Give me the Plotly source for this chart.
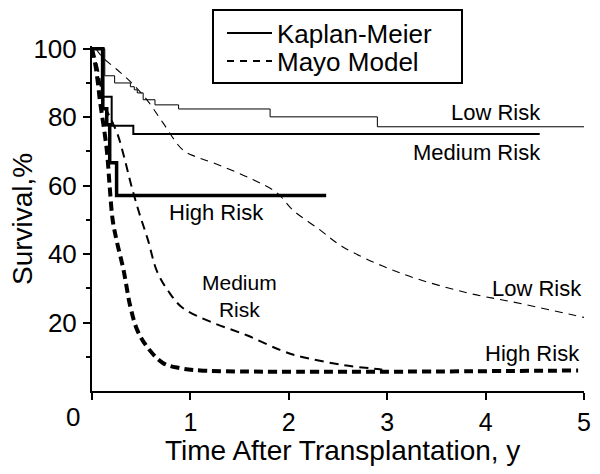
import plotly.graph_objects as go

# ---- Data ----
# Kaplan-Meier step curves (time in years, survival %)
km_low_t = [0, 0.13, 0.23, 0.39, 0.43, 0.46, 0.52, 0.64, 0.88, 1.81, 2.90, 5.0]
km_low_s = [100, 92.1, 90.0, 88.9, 88.0, 87.1, 85.1, 83.6, 82.4, 80.1, 77.2, 77.2]

km_med_t = [0, 0.10, 0.20, 0.42, 4.55]
km_med_s = [100, 86.0, 77.5, 75.1, 75.1]

km_high_t = [0, 0.11, 0.15, 0.18, 0.25, 2.38]
km_high_s = [100, 82.5, 77.8, 66.7, 57.1, 57.1]

# Mayo model predicted curves
mayo_low_t = [0.04, 0.11, 0.25, 0.39, 0.56, 0.72, 0.92, 1.05, 1.23, 1.64, 1.88, 2.04,
              2.32, 2.55, 3.13, 3.81, 4.28, 4.89, 5.0]
mayo_low_s = [100, 97.4, 94.0, 90.4, 85.0, 78.4, 70.5, 68.5, 66.7, 61.7, 57.9, 52.9,
              47.0, 42.1, 34.5, 28.7, 26.0, 22.2, 21.5]

mayo_med_t = [0, 0.06, 0.12, 0.20, 0.26, 0.33, 0.40, 0.48, 0.57, 0.66, 0.78, 0.92,
              1.19, 1.58, 1.91, 2.10, 2.55, 2.90, 2.95]
mayo_med_s = [100, 94, 84, 79, 75, 68, 60, 52, 44, 35, 29, 24.3,
              20.4, 16.2, 12.0, 10.2, 7.6, 6.4, 6.2]

mayo_high_t = [0, 0.03, 0.06, 0.08, 0.15, 0.18, 0.21, 0.25, 0.32, 0.39, 0.46, 0.56,
               0.72, 0.89, 1.10, 4.94]
mayo_high_s = [100, 96, 90, 85, 70.5, 59.6, 50, 44, 35.4, 24.6, 17.8, 12.9,
               8.2, 6.7, 6.0, 6.0]

x_ticks = [0, 1, 2, 3, 4, 5]
x_tick_labels = ["", "1", "2", "3", "4", "5"]
y_ticks = [20, 40, 60, 80, 100]
y_tick_labels = ["20", "40", "60", "80", "100"]

legend_names = ["Kaplan-Meier", "Mayo Model"]

FONT = "Liberation Sans, Arial, Helvetica, sans-serif"

fig = go.Figure()

# Kaplan-Meier curves
fig.add_trace(go.Scatter(x=km_low_t, y=km_low_s, mode="lines", line_shape="hv",
                         line=dict(color="black", width=1), showlegend=False))
fig.add_trace(go.Scatter(x=km_med_t, y=km_med_s, mode="lines", line_shape="hv",
                         line=dict(color="black", width=2), showlegend=False))
fig.add_trace(go.Scatter(x=km_high_t, y=km_high_s, mode="lines", line_shape="hv",
                         line=dict(color="black", width=3.5), showlegend=False))

# Mayo model curves
fig.add_trace(go.Scatter(x=mayo_low_t, y=mayo_low_s, mode="lines", line_shape="spline",
                         line=dict(color="black", width=1.1, dash="8px,6px"), showlegend=False))
fig.add_trace(go.Scatter(x=mayo_med_t, y=mayo_med_s, mode="lines", line_shape="spline",
                         line=dict(color="black", width=2, dash="9px,6px"), showlegend=False))
fig.add_trace(go.Scatter(x=mayo_high_t, y=mayo_high_s, mode="lines", line_shape="spline",
                         line=dict(color="black", width=4, dash="9px,5px"), showlegend=False))

# Legend entries (each in its own legend so the rows can sit close together)
fig.add_trace(go.Scatter(x=[None], y=[None], mode="lines", name=legend_names[0],
                         line=dict(color="black", width=2), legend="legend"))
fig.add_trace(go.Scatter(x=[None], y=[None], mode="lines", name=legend_names[1],
                         line=dict(color="black", width=2, dash="7px,6px"), legend="legend2"))

# The page body has an 8px margin: the figure's top-left lands at (8, 8)
OFF = 8
W, H = 600 - OFF, 474 - OFF
L, R, T, B = 92 - OFF, 16, 46 - OFF, 83
PW, PH = W - L - R, H - T - B


def px_to_paper(px, py):
    px -= OFF
    py -= OFF
    return (px - L) / PW, (H - B - py) / PH


annots = []
# curve labels (pixel centres in the page)
curve_labels = [
    ("Low Risk", 496, 112, 22),
    ("Medium Risk", 477, 152, 22),
    ("High Risk", 216, 212, 22),
    ("Medium<br>Risk", 239, 296, 21),
    ("Low Risk", 537, 288, 22),
    ("High Risk", 532, 353, 22),
]
for txt, px, py, fs in curve_labels:
    x, y = px_to_paper(px, py)
    annots.append(dict(text=txt, x=x, y=y, xref="paper", yref="paper",
                       showarrow=False, xanchor="center", yanchor="middle", align="center",
                       font=dict(family=FONT, size=fs, color="black")))

# origin label "0"
x0, y0 = px_to_paper(73, 417)
annots.append(dict(text="0", x=x0, y=y0, xref="paper", yref="paper", showarrow=False,
                   xanchor="center", yanchor="middle",
                   font=dict(family=FONT, size=26, color="black")))
# axis titles
xt, yt = px_to_paper(342, 450)
annots.append(dict(text="Time After Transplantation, y", x=xt, y=yt, xref="paper", yref="paper",
                   showarrow=False, xanchor="center", yanchor="middle",
                   font=dict(family=FONT, size=28, color="black")))
xs, ys = px_to_paper(23, 219)
annots.append(dict(text="Survival,%", x=xs, y=ys, xref="paper", yref="paper",
                   showarrow=False, xanchor="center", yanchor="middle", textangle=-90,
                   font=dict(family=FONT, size=28, color="black")))

# legend frame
bx0, by0 = px_to_paper(213, 10)
bx1, by1 = px_to_paper(462, 83)
shapes = [dict(type="rect", xref="paper", yref="paper", x0=bx0, y0=by1, x1=bx1, y1=by0,
               line=dict(color="black", width=2), fillcolor="rgba(0,0,0,0)")]

lx, ly1 = px_to_paper(222, 33)
_, ly2 = px_to_paper(222, 61)
leg_common = dict(xanchor="left", yanchor="middle", borderwidth=0,
                  bgcolor="rgba(0,0,0,0)", itemwidth=45,
                  font=dict(family=FONT, size=26, color="black"))

fig.update_layout(
    width=W, height=H,
    margin=dict(l=L, r=R, t=T, b=B, pad=0, autoexpand=False),
    plot_bgcolor="white", paper_bgcolor="white",
    font=dict(family=FONT, size=26, color="black"),
    annotations=annots,
    shapes=shapes,
    legend=dict(x=lx, y=ly1, **leg_common),
    legend2=dict(x=lx, y=ly2, **leg_common),
    xaxis=dict(range=[0, 5], showgrid=False, zeroline=False, showline=True,
               linecolor="black", linewidth=2, ticks="outside", ticklen=7, tickwidth=2,
               tickcolor="black", tickvals=x_ticks, ticktext=x_tick_labels,
               ticklabelstandoff=1,
               tickfont=dict(family=FONT, size=25, color="black")),
    yaxis=dict(range=[0, 100.8], showgrid=False, zeroline=False, showline=True,
               linecolor="black", linewidth=2, ticks="outside", ticklen=7, tickwidth=2,
               tickcolor="black", tickvals=y_ticks, ticktext=y_tick_labels,
               ticklabelstandoff=1,
               tickfont=dict(family=FONT, size=26, color="black"),
               minor=dict(tickvals=[10, 30, 50, 70, 90], ticks="outside", ticklen=4,
                          tickwidth=1.5, tickcolor="black")),
)

fig.write_html("out.html")
